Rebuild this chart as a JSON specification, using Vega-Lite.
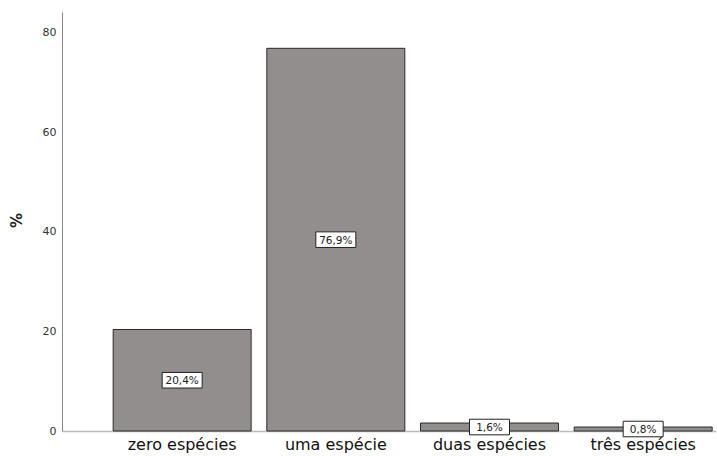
{
  "$schema": "https://vega.github.io/schema/vega-lite/v6.json",
  "autosize": {"type": "none"},
  "width": 654,
  "height": 419,
  "padding": {"left": 62, "top": 12, "right": 1, "bottom": 25},
  "background": "white",
  "config": {"view": {"stroke": null}, "font": "DejaVu Sans"},
  "data": {"values": [
    {"categoria": "zero espécies", "pct": 20.4, "rotulo": "20,4%"},
    {"categoria": "uma espécie", "pct": 76.9, "rotulo": "76,9%"},
    {"categoria": "duas espécies", "pct": 1.6, "rotulo": "1,6%"},
    {"categoria": "três espécies", "pct": 0.8, "rotulo": "0,8%"}
  ]},
  "encoding": {
    "x": {
      "field": "categoria", "type": "nominal", "sort": null,
      "scale": {"paddingInner": 0.102, "paddingOuter": 0.179, "align": 0.93},
      "axis": {"title": null, "labelAngle": 0, "ticks": false, "labelFontSize": 16, "labelColor": "#111", "labelPadding": 5, "domainColor": "#bbb", "domainWidth": 1.5}
    }
  },
  "layer": [
    {
      "mark": {"type": "bar", "color": "#928e8d", "stroke": "#2a2a2a", "strokeWidth": 1},
      "encoding": {
        "y": {
          "field": "pct", "type": "quantitative",
          "scale": {"domain": [0, 84.2], "nice": false},
          "axis": {"title": "%", "values": [0, 20, 40, 60, 80], "ticks": false, "grid": false, "labelFontSize": 11, "labelColor": "#333", "labelPadding": 6, "domainColor": "#888", "titleFontSize": 15, "titleFontWeight": "bold", "titleColor": "#222", "titleX": -46, "titleY": 208, "titleAngle": -90, "titleAlign": "center", "titleBaseline": "middle"}
        }
      }
    },
    {
      "transform": [{"calculate": "datum.pct / 2", "as": "meio"}],
      "mark": {"type": "point", "shape": "M-1,-0.39 L1,-0.39 L1,0.39 L-1,0.39 Z", "size": 1600, "filled": true, "fill": "white", "stroke": "#222", "strokeWidth": 1, "opacity": 1},
      "encoding": {"y": {"field": "meio", "type": "quantitative"}}
    },
    {
      "transform": [{"calculate": "datum.pct / 2", "as": "meio"}],
      "mark": {"type": "text", "fontSize": 10.5, "color": "#222", "baseline": "middle", "dy": 1},
      "encoding": {"y": {"field": "meio", "type": "quantitative"}, "text": {"field": "rotulo"}}
    }
  ]
}
